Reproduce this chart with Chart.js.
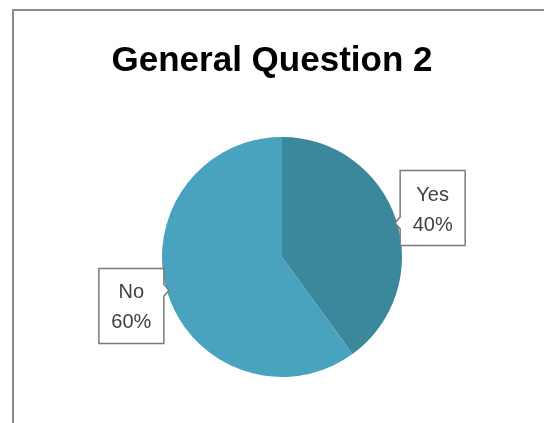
<!DOCTYPE html>
<html>
<head>
<meta charset="utf-8">
<script src="https://cdn.jsdelivr.net/npm/chart.js@4"></script>
<style>
  html, body { margin: 0; padding: 0; background: #fff; }
  #wrap { position: relative; width: 544px; height: 423px; overflow: hidden; }
  #frame { position: absolute; left: 12px; top: 9px; width: 600px; height: 500px;
           border-left: 2px solid #8a8a8a; border-top: 2px solid #8a8a8a; }
  canvas { position: absolute; left: 0; top: 0; }
</style>
</head>
<body>
<div id="wrap">
  <div id="frame"></div>
  <canvas id="pie" width="544" height="423"></canvas>
</div>
<script>
// Datos del gráfico
const titleText = "General Question 2";
const labels = ["Yes", "No"];
const values = [40, 60];
const colors = ["#3b889c", "#4aa3be"];

// Título y etiquetas tipo "callout" con el nombre y el porcentaje
const calloutPlugin = {
  id: 'callouts',
  afterDraw(chart) {
    const c = chart.ctx;
    const meta = chart.getDatasetMeta(0);
    const total = values.reduce((a, b) => a + b, 0);

    // Título
    c.save();
    c.font = "bold 35px 'Liberation Sans', Arial, sans-serif";
    c.fillStyle = "#000";
    c.textAlign = "center";
    c.textBaseline = "alphabetic";
    c.fillText(titleText, 272, 71);
    c.restore();

    meta.data.forEach((arc, i) => {
      const p = arc.getProps(['x', 'y', 'startAngle', 'endAngle', 'outerRadius'], true);
      const mid = (p.startAngle + p.endAngle) / 2;
      const cx = p.x + Math.cos(mid) * p.outerRadius * 1.32;
      const cy = p.y + Math.sin(mid) * p.outerRadius * 1.32;
      const w = 65, h = 75;
      const x0 = cx - w / 2, y0 = cy - h / 2;
      const pct = Math.round(values[i] / total * 100) + "%";
      const left = Math.cos(mid) > 0; // el puntero va hacia el pastel

      c.save();
      c.beginPath();
      if (left) {
        const py = y0 + h * 0.7;
        c.moveTo(x0, y0);
        c.lineTo(x0 + w, y0);
        c.lineTo(x0 + w, y0 + h);
        c.lineTo(x0, y0 + h);
        c.lineTo(x0, py + 6);
        c.lineTo(x0 - 5, py);
        c.lineTo(x0, py - 6);
      } else {
        const py = y0 + h * 0.29;
        c.moveTo(x0, y0);
        c.lineTo(x0 + w, y0);
        c.lineTo(x0 + w, py - 6);
        c.lineTo(x0 + w + 5, py);
        c.lineTo(x0 + w, py + 6);
        c.lineTo(x0 + w, y0 + h);
        c.lineTo(x0, y0 + h);
      }
      c.closePath();
      c.fillStyle = "#fff";
      c.fill();
      c.lineWidth = 1.5;
      c.strokeStyle = "#7a7a7a";
      c.stroke();

      c.font = "20px 'Liberation Sans', Arial, sans-serif";
      c.fillStyle = "#404040";
      c.textAlign = "center";
      c.textBaseline = "middle";
      c.fillText(labels[i], cx, cy - 13);
      c.fillText(pct, cx, cy + 17);
      c.restore();
    });
  }
};

const ctx = document.getElementById('pie').getContext('2d');
const pieChart = new Chart(ctx, {
  type: 'pie',
  data: {
    labels: labels,
    datasets: [{
      data: values,
      backgroundColor: colors,
      borderWidth: 0
    }]
  },
  options: {
    responsive: false,
    animation: false,
    layout: {
      padding: { left: 162, right: 142, top: 137, bottom: 46 }
    },
    plugins: {
      legend: { display: false },
      tooltip: { enabled: false },
      title: { display: false }
    }
  },
  plugins: [calloutPlugin]
});
</script>
</body>
</html>
